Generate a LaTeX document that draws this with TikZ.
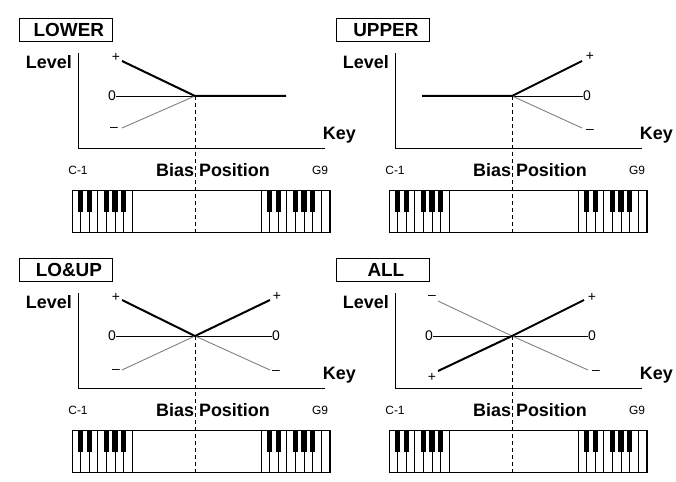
\documentclass[tikz,border=0pt]{standalone}
\usepackage{fontspec}
\setmainfont{Liberation Sans}
\begin{document}
\begin{tikzpicture}[x=1bp,y=-1bp,
  ttl/.style={draw,line width=0.8bp,font=\bfseries\fontsize{19}{19}\selectfont,inner sep=0pt,minimum height=23bp,anchor=west},
  lab/.style={font=\bfseries\fontsize{18}{18}\selectfont,inner sep=0pt},
  note/.style={font=\fontsize{12}{12}\selectfont,inner sep=0pt},
  sym/.style={font=\fontsize{14}{14}\selectfont,inner sep=0pt},
  axis/.style={line width=0.9bp},
  heavy line/.style={line width=2bp},
  thin line/.style={line width=0.9bp},
  gray line/.style={line width=0.9bp,gray},
  biasdash/.style={line width=0.8bp,dash pattern=on 4bp off 3bp},
  kb/.style={line width=0.8bp}]
\useasboundingbox (0,0) rectangle (676,482);
\newcommand\kbgroup[2]{% x start, number of white keys
  \foreach \i in {1,...,#2} {\draw[kb] ({#1+8.6*(\i-1)},190) rectangle ({#1+8.6*\i},232);}
  \foreach \b in {1,2,4,5,6} {\fill ({#1+8.6*\b-2.6},190) rectangle ({#1+8.6*\b+2.6},212);}
}
\newcommand\panelbase[4]{% prefix, dx, dy, title
 \begin{scope}[shift={(#2,#3)}]
  \node[ttl,minimum width=93bp] (#1t) at (19,30) {\hspace*{6bp}#4\hfill};
  \node[lab,anchor=east] (#1lv) at (72,62) {Level};
  \node[lab,anchor=east] (#1key) at (356,135) {Key};
  \coordinate (#1o) at (78,148);
  \coordinate (#1top) at (78,53);
  \coordinate (#1xe) at (325,148);
  \draw[axis] (#1top) -- (#1o) -- (#1xe);
  \node[note] (#1c) at (78,170) {C-1};
  \node[note] (#1g) at (320,170) {G9};
  \node[lab] (#1bp) at (213,170) {Bias Position};
  \draw[kb] (72,190) rectangle (330,232);
  \kbgroup{72}{7}
  \kbgroup{261}{8}
  \coordinate (#1m) at (195,96);
  \coordinate (#1d) at (195,232);
  \draw[biasdash] (#1m) -- (#1d);
 \end{scope}}
% LOWER
\panelbase{a}{0}{0}{LOWER}
\node[sym] (ap) at (116,57) {+};
\node[sym] (az) at (112,96) {0};
\node[sym] (an) at (114,130) {\textendash};
\draw[thin line] (az) -- (am);
\draw[gray line] (122,128) -- (am);
\draw[heavy line] (122,61) -- (am) -- (286,96);
% UPPER
\panelbase{b}{317}{0}{UPPER}
\node[sym] (bp) at (590,56) {+};
\node[sym] (bz) at (587,96) {0};
\node[sym] (bn) at (590,132) {\textendash};
\draw[thin line] (bm) -- (bz);
\draw[gray line] (bm) -- (582,128);
\draw[heavy line] (422,96) -- (bm) -- (582,61);
% LO&UP
\panelbase{c}{0}{240}{LO\&UP}
\node[sym] (cp1) at (116,297) {+};
\node[sym] (cp2) at (277,296) {+};
\node[sym] (cz1) at (112,336) {0};
\node[sym] (cz2) at (276,336) {0};
\node[sym] (cn1) at (116,371) {\textendash};
\node[sym] (cn2) at (276,372) {\textendash};
\draw[thin line] (cz1) -- (cz2);
\draw[gray line] (122,370) -- (cm) -- (270,370);
\draw[heavy line] (122,300) -- (cm) -- (270,300);
% ALL
\panelbase{d}{317}{240}{ALL}
\node[sym] (dn1) at (432,297) {\textendash};
\node[sym] (dp2) at (592,297) {+};
\node[sym] (dz1) at (429,336) {0};
\node[sym] (dz2) at (592,336) {0};
\node[sym] (dp1) at (432,377) {+};
\node[sym] (dn2) at (596,372) {\textendash};
\draw[thin line] (dz1) -- (dz2);
\draw[gray line] (438,301) -- (dm) -- (588,370);
\draw[heavy line] (438,371) -- (dm) -- (584,300);
\end{tikzpicture}
\end{document}
